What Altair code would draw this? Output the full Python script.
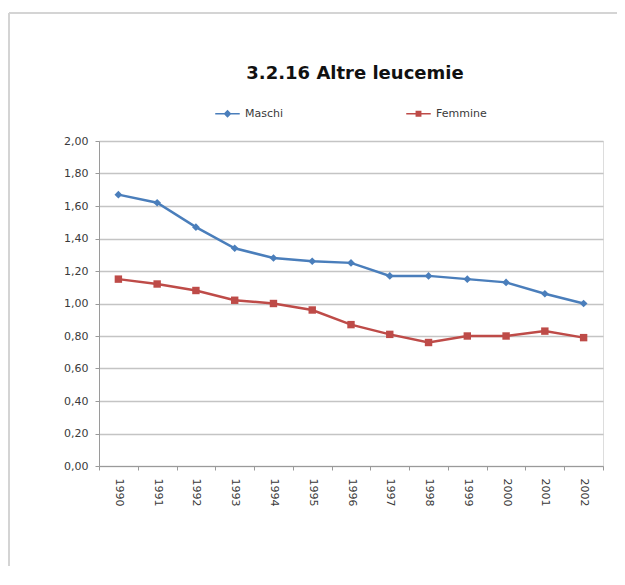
import altair as alt
import pandas as pd

years = ["1990", "1991", "1992", "1993", "1994", "1995", "1996",
         "1997", "1998", "1999", "2000", "2001", "2002"]
maschi = [1.67, 1.62, 1.47, 1.34, 1.28, 1.26, 1.25, 1.17, 1.17, 1.15, 1.13, 1.06, 1.00]
femmine = [1.15, 1.12, 1.08, 1.02, 1.00, 0.96, 0.87, 0.81, 0.76, 0.80, 0.80, 0.83, 0.79]
series = ["Maschi", "Femmine"]
colors = ["#4a7ebb", "#be4b48"]
y_ticks = [0.0, 0.2, 0.4, 0.6, 0.8, 1.0, 1.2, 1.4, 1.6, 1.8, 2.0]

df = pd.DataFrame({
    "anno": years * 2,
    "valore": maschi + femmine,
    "serie": [series[0]] * len(years) + [series[1]] * len(years),
})

FONT = "DejaVu Sans"

x_enc = alt.X("anno:O", title=None,
              scale=alt.Scale(type="band", paddingInner=0, paddingOuter=0),
              axis=alt.Axis(labelAngle=90, labelAlign="left", labelBaseline="middle",
                            labelPadding=8, tickBand="extent", tickSize=4,
                            grid=False, domainColor="#9a9a9a", tickColor="#9a9a9a",
                            labelFont=FONT, labelFontSize=11, labelColor="#3a3a3a"))
y_enc = alt.Y("valore:Q", title=None,
              scale=alt.Scale(domain=[0, 2], nice=False),
              axis=alt.Axis(values=y_ticks, labelExpr="replace(format(datum.value, '.2f'), '.', ',')",
                            tickSize=4, labelPadding=7, domainColor="#9a9a9a", tickColor="#9a9a9a",
                            gridColor="#c4c4c4", gridWidth=1.5,
                            labelFont=FONT, labelFontSize=11, labelColor="#3a3a3a"))

color_scale = alt.Scale(domain=series, range=colors)
legend_paths = ["M-1,-0.06H1V0.06H-1ZM-0.32,0L0,-0.32L0.32,0L0,0.32Z",
                "M-1,-0.06H1V0.06H-1ZM-0.24,-0.24H0.24V0.24H-0.24Z"]
legend = alt.Legend(title=None, orient="none", direction="horizontal",
                    legendX=116, legendY=-40,
                    symbolSize=600, symbolOpacity=1, symbolStrokeWidth=0,
                    columnPadding=122, labelOffset=5,
                    labelFont=FONT, labelFontSize=11, labelColor="#3a3a3a")

base = alt.Chart(df)
lines = base.mark_line(strokeWidth=2.5).encode(
    x=x_enc, y=y_enc,
    color=alt.Color("serie:N", sort=series, scale=color_scale, legend=legend))
pts_m = base.transform_filter(alt.datum.serie == series[0]).mark_point(
    filled=True, size=60, opacity=1, shape="diamond").encode(
    x=x_enc, y=y_enc,
    color=alt.Color("serie:N", sort=series, scale=color_scale, legend=legend))
pts_f = base.transform_filter(alt.datum.serie == series[1]).mark_point(
    filled=True, size=55, opacity=1, shape="square").encode(
    x=x_enc, y=y_enc,
    color=alt.Color("serie:N", sort=series, scale=color_scale, legend=legend))
# empty layer used only to carry the legend (line + marker symbols)
leg = base.transform_filter("false").mark_point(filled=True, opacity=1).encode(
    x=x_enc, y=y_enc,
    color=alt.Color("serie:N", sort=series, scale=color_scale, legend=legend),
    shape=alt.Shape("serie:N", sort=series,
                    scale=alt.Scale(domain=series, range=legend_paths), legend=legend),
)

frame_left = alt.Chart(df).mark_rule(color="#d4d4d4", strokeWidth=2).encode(
    x=alt.value(-90), y=alt.value(-128), y2=alt.value(470))
frame_top = alt.Chart(df).mark_rule(color="#d4d4d4", strokeWidth=2).encode(
    x=alt.value(-90), x2=alt.value(540), y=alt.value(-128))

chart = alt.layer(frame_left, frame_top, lines, pts_m, pts_f, leg).properties(
    width=504, height=325,
    title=alt.TitleParams("3.2.16 Altre leucemie", font=FONT, fontSize=18, fontWeight="bold",
                          color="#111111", anchor="middle", offset=-71, dx=4),
    autosize=alt.AutoSizeParams(type="none"),
    padding={"left": 91, "top": 133, "right": 14, "bottom": 100},
).configure_view(stroke=None).configure(background="white")

chart.save("out.html", embed_options={"renderer": "svg", "actions": False})
